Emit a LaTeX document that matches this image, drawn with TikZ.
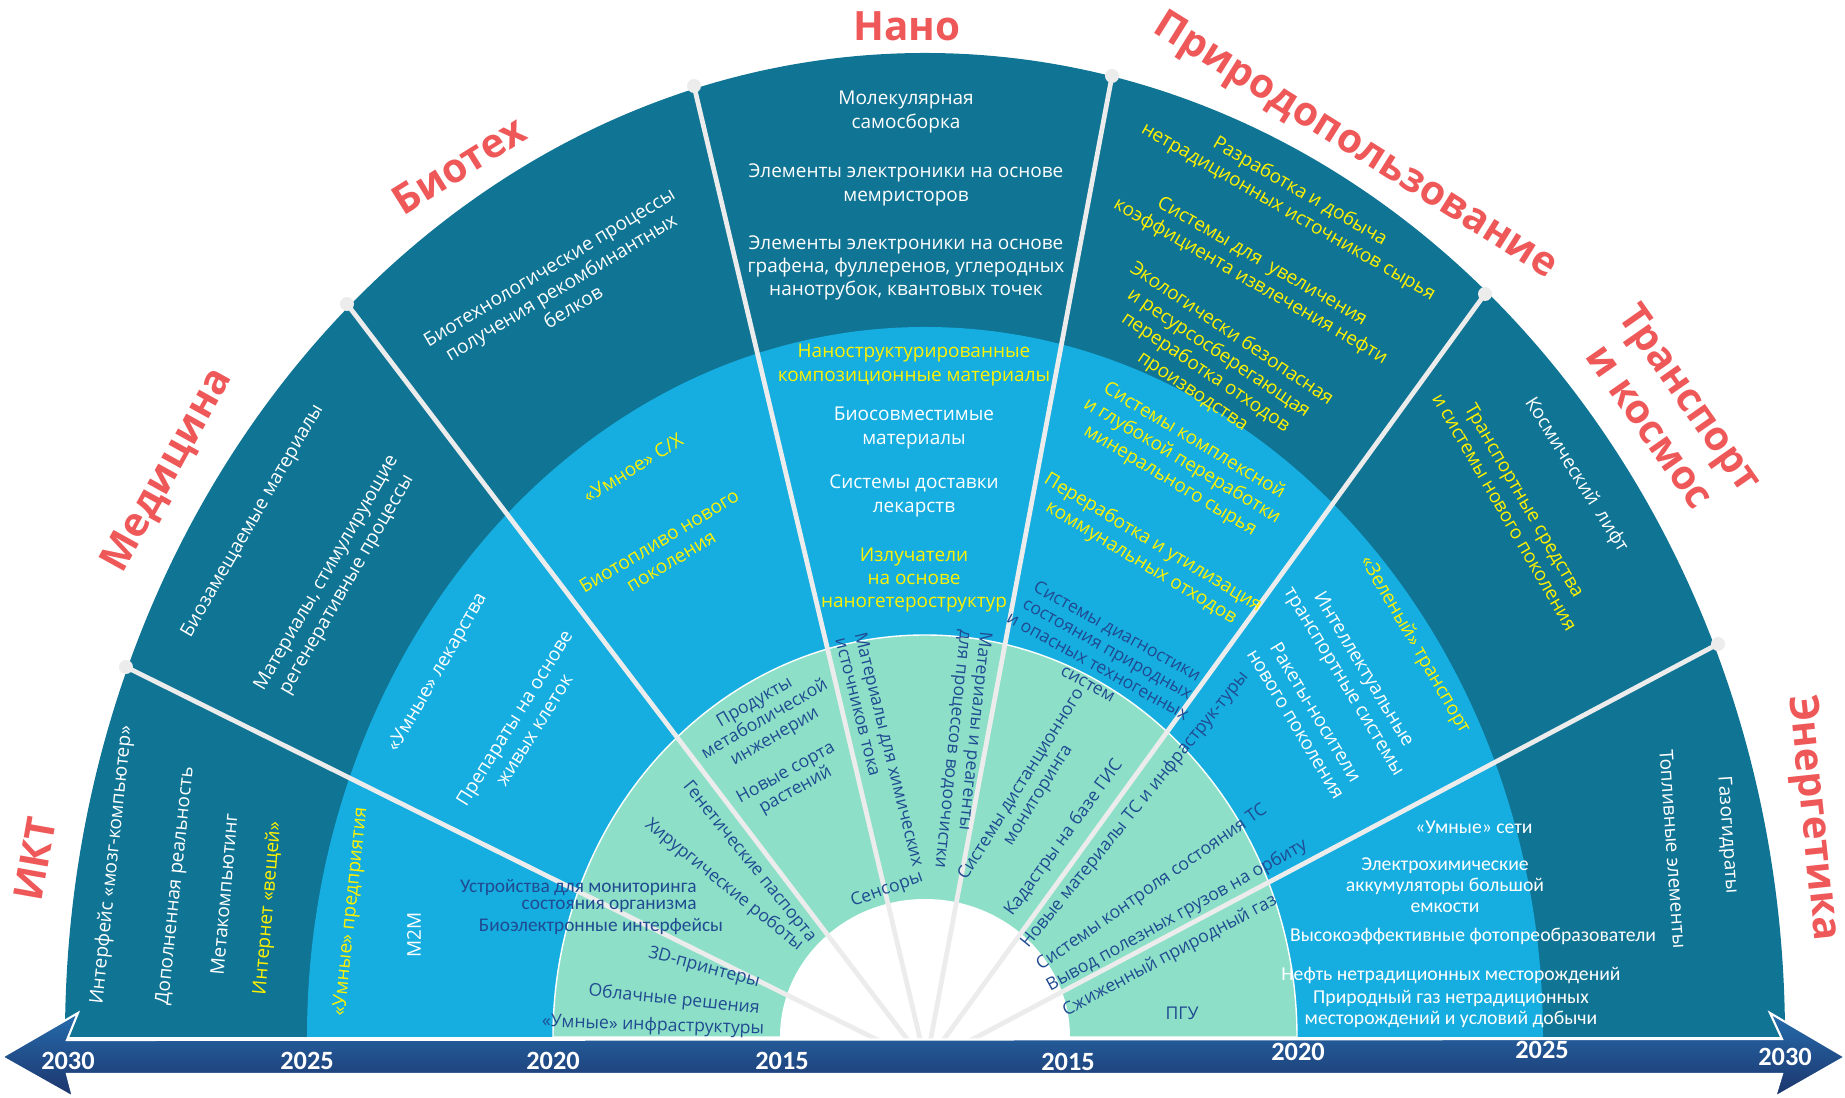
\documentclass[tikz,border=0pt]{standalone}
\usepackage{fontspec}
\setmainfont{Open Sans}
\newfontfamily\calfont{Carlito}
\definecolor{darkring}{RGB}{16,116,148}
\definecolor{midring}{RGB}{22,174,224}
\definecolor{innerring}{RGB}{141,224,199}
\definecolor{rayc}{RGB}{236,236,236}
\definecolor{hdrred}{RGB}{239,88,88}
\definecolor{txtblue}{RGB}{32,74,145}
\definecolor{axtop}{RGB}{38,108,172}
\definecolor{axbot}{RGB}{28,52,108}
\begin{document}
\begin{tikzpicture}[x=0.02cm,y=0.02cm,
    lbl/.style={text=white,align=center,inner sep=0pt,font=\fontsize{10.8}{13.2}\selectfont},
    ylw/.style={lbl,text=yellow},
    sml/.style={text=txtblue,align=center,inner sep=0pt,font=\fontsize{10}{11.4}\selectfont},
    cal/.style={text=white,align=center,inner sep=0pt,font=\calfont\fontsize{11.2}{12}\selectfont},
    hdr/.style={text=hdrred,align=center,inner sep=0pt,font=\bfseries\fontsize{23}{28}\selectfont},
    yr/.style={text=white,inner sep=0pt,font=\calfont\bfseries\fontsize{15}{15}\selectfont},
    dot/.style={circle,fill=rayc,inner sep=0pt,minimum size=0.28cm},
    ray/.style={rayc,line width=2.7pt}]
    \useasboundingbox (-925,-61) rectangle (920,1037);
    \fill[darkring] (-860,0) arc[start angle=180,end angle=0,x radius=860,y radius=984] -- cycle;
    \fill[midring] (-618,0) arc[start angle=180,end angle=0,x radius=618,y radius=710] -- cycle;
    \filldraw[fill=innerring,draw=white,line width=0.8pt] (-372,0) arc[start angle=180,end angle=0,x radius=372,y radius=402] -- cycle;
    \fill[white] (-145,0) arc[start angle=180,end angle=0,x radius=145,y radius=138] -- cycle;

    \coordinate (hub) at (1,-27);
    \node[dot] (d1) at (-799,370) {};
    \node[dot] (d2) at (-578,733) {};
    \node[dot] (d3) at (-231,951) {};
    \node[dot] (d4) at (187,961) {};
    \node[dot] (d5) at (560,743) {};
    \node[dot] (d6) at (793,393) {};
    \draw[ray] (hub) -- (d1.center);
    \draw[ray] (hub) -- (d2.center);
    \draw[ray] (hub) -- (d3.center);
    \draw[ray] (hub) -- (d4.center);
    \draw[ray] (hub) -- (d5.center);
    \draw[ray] (hub) -- (d6.center);

    \shade[top color=axtop,bottom color=axbot,draw=white,line width=1.2pt]
        (-923,-20) -- (-847,24) -- (-858,-3) -- (857,-2) -- (845,24) -- (920,-20)
        -- (850,-60) -- (857,-37) -- (-858,-37) -- (-852,-60) -- cycle;
    \node[yr] (y1) at (-857,-24) {2030};
    \node[yr] (y2) at (-618,-24) {2025};
    \node[yr] (y3) at (-372,-24) {2020};
    \node[yr] (y4) at (-143,-24) {2015};
    \node[yr] (y5) at (143,-25) {2015};
    \node[yr] (y6) at (373,-15) {2020};
    \node[yr] (y7) at (617,-13) {2025};
    \node[yr] (y8) at (860,-20) {2030};

    \node[hdr,rotate=80] (ikt) at (-890,178) {ИКТ};
    \node[hdr,rotate=61] (med) at (-757,566) {Медицина};
    \node[hdr,rotate=32] (bio) at (-466,872) {Биотех};
    \node[hdr] (nano) at (-18,1011) {Нано};
    \node[hdr,rotate=-32] (prir) at (430,890) {Природопользование};
    \node[hdr,rotate=-55] (trans) at (746,625) {Транспорт\\и космос};
    \node[hdr,rotate=-84] (energ) at (887,219) {Энергетика};

    \node[lbl,rotate=84] (ikt1) at (-813,172) {Интерфейс «мозг-компьютер»};
    \node[lbl,rotate=84] (ikt2) at (-749,151) {Дополненная реальность};
    \node[lbl,rotate=85] (ikt3) at (-701,143) {Метакомпьютинг};
    \node[ylw,rotate=85] (ikt4) at (-657,129) {Интернет «вещей»};
    \node[ylw,rotate=84] (ikt5) at (-574,125) {«Умные» предприятия};
    \node[lbl,rotate=90] (ikt6) at (-511,102) {M2M};

    \node[lbl,rotate=60] (med1) at (-672,516) {Биозамещаемые материалы};
    \node[lbl,rotate=60] (med2) at (-588,458) {Материалы, стимулирующие\\регенеративные процессы};
    \node[lbl,rotate=60] (med3) at (-487,364) {«Умные» лекарства};
    \node[lbl,rotate=58] (med4) at (-401,313) {Препараты на основе\\живых клеток};

    \node[lbl,rotate=31] (bio1) at (-364,750) {Биотехнологические процессы\\получения рекомбинантных\\белков};
    \node[ylw,rotate=32] (bio2) at (-292,569) {«Умное» С/Х};
    \node[ylw,rotate=31] (bio3) at (-260,486) {Биотопливо нового\\поколения};

    \node[lbl] (nano1) at (-19,925) {Молекулярная\\самосборка};
    \node[lbl] (nano2) at (-19,852) {Элементы электроники на основе\\мемристоров};
    \node[lbl] (nano3) at (-19,769) {Элементы электроники на основе\\графена, фуллеренов, углеродных\\нанотрубок, квантовых точек};
    \node[ylw] (nano4) at (-11,672) {Наноструктурированные\\композиционные материалы};
    \node[lbl] (nano5) at (-11,609) {Биосовместимые\\материалы};
    \node[lbl] (nano6) at (-11,541) {Системы доставки\\лекарств};
    \node[ylw] (nano7) at (-11,457) {Излучатели\\на основе\\наногетероструктур};

    \node[ylw,rotate=-30] (prir1) at (369,835) {Разработка и добыча\\нетрадиционных источников сырья};
    \node[ylw,rotate=-30] (prir2) at (331,765) {Системы для~ увеличения\\коэффициента извлечения нефти};
    \node[ylw,rotate=-34] (prir3) at (287,674) {Экологически безопасная\\и ресурсосберегающая\\переработка отходов\\производства};
    \node[ylw,rotate=-31] (prir4) at (257,576) {Системы комплексной\\и глубокой переработки\\минерального сырья};
    \node[ylw,rotate=-31] (prir5) at (222,484) {Переработка и утилизация\\коммунальных отходов};
    \node[sml,rotate=-29] (prir6) at (178,380) {Системы диагностики\\состояния природных\\и опасных техногенных\\систем};

    \node[lbl,rotate=-58] (tr1) at (651,562) {Космический~ лифт};
    \node[ylw,rotate=-60] (tr2) at (590,531) {Транспортные средства\\и системы нового поколения};
    \node[ylw,rotate=-60] (tr3) at (490,392) {«Зеленый» транспорт};
    \node[lbl,rotate=-59] (tr4) at (428,361) {Интеллектуальные\\транспортные системы};
    \node[lbl,rotate=-59] (tr5) at (381,319) {Ракеты-носители\\нового поколения};

    \node[lbl,rotate=-86] (en1) at (802,202) {Газогидраты};
    \node[lbl,rotate=-86] (en2) at (748,188) {Топливные элементы};
    \node[cal] (en3) at (549,210) {«Умные» сети};
    \node[cal] (en4) at (520,152) {Электрохимические\\аккумуляторы большой\\емкости};
    \node[cal] (en5) at (548,101) {Высокоэффективные фотопреобразователи};
    \node[cal] (en6) at (526,62) {Нефть нетрадиционных месторождений};
    \node[cal] (en7) at (526,28) {Природный газ нетрадиционных\\месторождений и условий добычи};

    \node[sml,font=\calfont\fontsize{11}{10}\selectfont,align=right,anchor=east] (gr1) at (-228,141) {Устройства для мониторинга\\состояния организма};
    \node[sml,font=\calfont\fontsize{11}{10}\selectfont] (gr2) at (-324,110) {Биоэлектронные интерфейсы};
    \node[sml,rotate=-15] (gr3) at (-221,69) {3D-принтеры};
    \node[sml,rotate=-6] (gr4) at (-251,37) {Облачные решения};
    \node[sml,rotate=-2] (gr5) at (-272,11) {«Умные» инфраструктуры};
    \node[sml,rotate=-51] (gr6) at (-176,175) {Генетические паспорта};
    \node[sml,rotate=-39] (gr7) at (-201,152) {Хирургические роботы};
    \node[sml,rotate=30] (gr8) at (-160,317) {Продукты\\метаболической\\инженерии};
    \node[sml,rotate=29] (gr9) at (-134,255) {Новые сорта\\растений};
    \node[sml,rotate=20] (gr10) at (-38,147) {Сенсоры};
    \node[sml,rotate=-76,align=left] (gr11) at (-45,285) {Материалы для химических\\источников тока};
    \node[sml,rotate=-96,align=left] (gr12) at (37,287) {Материалы и реагенты\\для процессов водоочистки};
    \node[sml,rotate=58] (gr13) at (105,247) {Системы дистанционного\\мониторинга};
    \node[sml,rotate=54] (gr14) at (139,199) {Кадастры на базе ГИС};
    \node[sml,rotate=51] (gr15) at (210,227) {Новые материалы ТС и инфраструк-туры};
    \node[sml,rotate=35] (gr16) at (227,149) {Системы контроля состояния ТС};
    \node[sml,rotate=29] (gr17) at (252,121) {Вывод полезных грузов на орбиту};
    \node[sml,rotate=28] (gr18) at (245,81) {Сжиженный природный газ};
    \node[sml] (gr19) at (257,24) {ПГУ};
\end{tikzpicture}
\end{document}
